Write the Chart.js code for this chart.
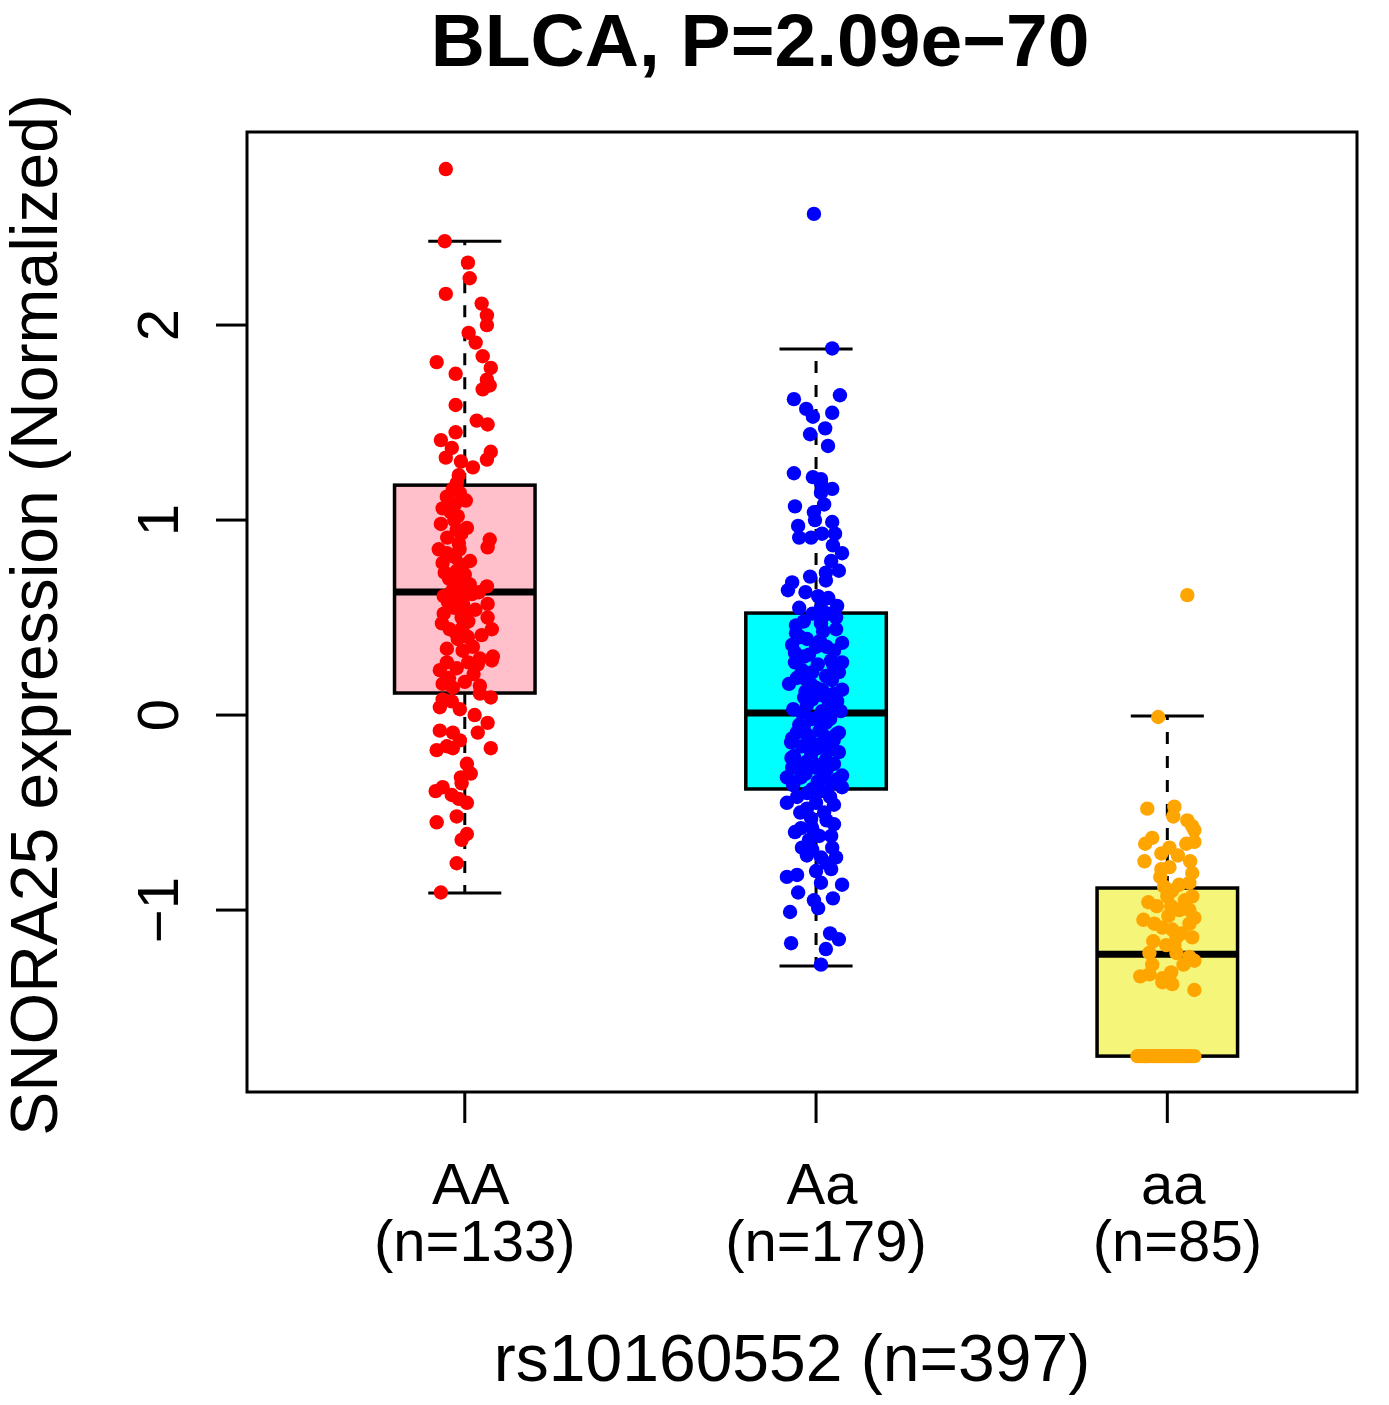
<!DOCTYPE html>
<html>
<head>
<meta charset="utf-8">
<title>BLCA boxplot</title>
<script src="https://cdn.jsdelivr.net/npm/chart.js@4.4.1/dist/chart.umd.min.js"></script>
<style>
    body { margin: 0; background: #ffffff; }
    canvas { display: block; }
</style>
</head>
<body>
<canvas id="boxChart" width="1389" height="1405"></canvas>
<script>
// Groups and labels
const genotypes = ['AA', 'Aa', 'aa'];
const groupCounts = ['(n=133)', '(n=179)', '(n=85)'];
const titleText = 'BLCA, P=2.09e\u221270';
const xTitle = 'rs10160552 (n=397)';
const yTitle = 'SNORA25 expression (Normalized)';
const yTicks = [-1, 0, 1, 2];

// Box statistics
const whiskerLow = [-0.913, -1.287, -1.749];
const q1 = [0.113, -0.379, -1.749];
const medians = [0.631, 0.010, -1.226];
const q3 = [1.179, 0.523, -0.887];
const whiskerHigh = [2.430, 1.877, -0.005];

// Colours
const pointColors = ['#FF0000', '#0000FF', '#FFA500'];
const boxColors = ['#FFC0CB', '#00FFFF', '#F5F57A'];

// Jittered points: [jitter offset, expression]
const pointsAA = [
    [-0.054, 2.80], [-0.057, 2.43], [0.009, 2.32], [0.014, 2.24], [-0.054, 2.16], [0.048, 2.11],
    [0.063, 2.05], [0.063, 2.00], [0.011, 1.96], [0.031, 1.91], [0.051, 1.84], [-0.080, 1.81],
    [-0.026, 1.75], [0.074, 1.78], [0.063, 1.72], [0.071, 1.69], [0.051, 1.67], [-0.026, 1.59],
    [0.034, 1.51], [0.065, 1.49], [-0.026, 1.45], [-0.068, 1.41], [-0.037, 1.37], [-0.054, 1.32],
    [0.074, 1.35], [0.063, 1.31], [-0.011, 1.30], [0.023, 1.27], [-0.017, 1.23], [-0.023, 1.19],
    [-0.034, 1.16], [-0.051, 1.12], [-0.014, 1.14], [0.003, 1.10], [-0.063, 1.06], [-0.028, 1.08],
    [-0.068, 0.98], [-0.020, 1.02], [0.006, 0.96], [-0.023, 0.95], [0.071, 0.90], [0.065, 0.86],
    [-0.017, 0.88], [-0.074, 0.85], [-0.051, 0.83], [-0.028, 0.81], [-0.063, 0.78], [-0.006, 0.77],
    [-0.057, 0.73], [-0.023, 0.74], [0.000, 0.72], [-0.020, 0.68], [0.063, 0.66], [0.014, 0.67],
    [0.000, 0.63], [-0.048, 0.58], [-0.014, 0.59], [0.065, 0.57], [0.000, 0.53], [0.065, 0.50],
    [-0.009, 0.50], [-0.065, 0.47], [-0.043, 0.44], [-0.006, 0.45], [0.077, 0.44], [0.048, 0.41],
    [-0.020, 0.39], [0.009, 0.40], [0.023, 0.35], [-0.051, 0.34], [-0.006, 0.33], [0.080, 0.30],
    [0.043, 0.29], [0.077, 0.28], [-0.051, 0.27], [-0.071, 0.23], [-0.023, 0.24], [0.037, 0.26],
    [0.000, 0.17], [-0.063, 0.16], [-0.034, 0.14], [0.043, 0.15], [0.043, 0.11], [0.074, 0.09],
    [-0.063, 0.08], [-0.037, 0.07], [-0.071, 0.04], [-0.014, 0.03], [0.028, 0.00], [0.065, -0.04],
    [0.037, -0.09], [-0.071, -0.08], [-0.034, -0.09], [-0.014, -0.13], [-0.080, -0.18], [-0.051, -0.16],
    [-0.034, -0.17], [0.074, -0.17], [0.006, -0.25], [0.017, -0.30], [-0.011, -0.32], [-0.009, -0.35],
    [-0.083, -0.39], [-0.063, -0.37], [-0.037, -0.41], [-0.017, -0.43], [0.006, -0.45], [-0.023, -0.52],
    [-0.080, -0.55], [0.006, -0.61], [-0.009, -0.64], [-0.023, -0.76], [-0.068, -0.91],
    [-0.040, 1.04], [-0.010, 0.93], [-0.045, 0.70], [0.020, 0.62], [-0.030, 0.55], [0.010, 0.48],
    [-0.060, 0.61], [0.030, 0.54], [-0.015, 0.85], [-0.050, 0.91], [0.015, 0.79], [-0.035, 0.64],
    [-0.005, 0.57], [0.040, 0.63], [-0.025, 0.42], [0.025, 0.21], [-0.045, 0.19], [0.010, 0.27],
    [-0.060, 0.52], [-0.030, 1.00]
];

const pointsAa = [
    [-0.006, 2.57], [0.046, 1.88], [-0.063, 1.62], [0.068, 1.64], [-0.028, 1.57], [0.046, 1.55],
    [-0.009, 1.53], [0.026, 1.47], [-0.017, 1.44], [0.034, 1.38], [-0.063, 1.24], [-0.009, 1.22],
    [0.014, 1.21], [0.014, 1.19], [0.046, 1.16], [0.014, 1.14], [-0.060, 1.07], [0.023, 1.08],
    [-0.006, 1.04], [-0.003, 1.00], [0.046, 0.99], [-0.051, 0.97], [0.054, 0.93], [0.017, 0.93],
    [-0.048, 0.91], [-0.014, 0.91], [0.048, 0.87], [0.074, 0.83], [0.043, 0.79], [0.065, 0.74],
    [0.028, 0.73], [0.028, 0.69], [-0.017, 0.71], [-0.068, 0.68], [-0.080, 0.64], [0.006, 0.61],
    [0.060, 0.56], [0.014, 0.55], [-0.048, 0.55], [0.037, 0.52], [0.017, 0.50], [0.057, 0.50],
    [-0.057, 0.46], [0.014, 0.47], [0.057, 0.44], [-0.057, 0.42], [-0.026, 0.39], [0.011, 0.38],
    [0.074, 0.37], [-0.068, 0.36], [0.051, 0.33], [-0.060, 0.32], [-0.034, 0.30], [0.043, 0.28],
    [0.074, 0.27], [-0.040, 0.23], [-0.011, 0.22], [0.065, 0.22], [0.028, 0.20], [-0.028, 0.18],
    [-0.077, 0.16], [0.000, 0.14], [0.017, 0.13], [0.074, 0.13], [0.051, 0.11], [-0.034, 0.09],
    [-0.011, 0.08], [0.037, 0.06], [-0.026, 0.05], [0.051, 0.04], [-0.040, 0.01], [0.017, 0.02],
    [-0.011, -0.02], [-0.048, -0.05], [0.028, -0.04], [0.065, -0.09], [-0.026, -0.10], [-0.068, -0.12],
    [-0.020, -0.11], [0.057, -0.10], [-0.071, -0.14], [0.014, -0.15], [0.037, -0.18], [-0.063, -0.21],
    [-0.014, -0.20], [-0.028, -0.24], [0.028, -0.23], [0.051, -0.25], [-0.068, -0.27], [0.000, -0.27],
    [0.074, -0.31], [-0.083, -0.32], [-0.043, -0.32], [0.023, -0.32], [0.046, -0.35], [-0.011, -0.38],
    [0.074, -0.37], [0.031, -0.39], [-0.054, -0.42], [-0.083, -0.45], [0.051, -0.46], [-0.026, -0.48],
    [0.023, -0.50], [-0.014, -0.53], [0.051, -0.56], [-0.043, -0.58], [-0.011, -0.58], [0.009, -0.62],
    [0.043, -0.62], [-0.040, -0.68], [-0.011, -0.69], [0.046, -0.68], [-0.026, -0.72], [0.014, -0.73],
    [0.057, -0.73], [0.043, -0.79], [0.000, -0.80], [-0.083, -0.83], [-0.054, -0.82], [0.014, -0.86],
    [0.074, -0.87], [-0.051, -0.91], [-0.006, -0.95], [0.048, -0.94], [0.006, -0.99], [-0.074, -1.01],
    [0.040, -1.12], [0.065, -1.15], [-0.071, -1.17], [0.028, -1.20], [0.014, -1.28],
    [-0.045, 0.40], [0.030, 0.35], [-0.020, 0.31], [0.005, 0.26], [0.045, 0.18], [-0.055, 0.19],
    [0.020, 0.10], [-0.030, 0.12], [0.060, 0.07], [-0.065, 0.03], [0.005, -0.01], [0.040, -0.02],
    [-0.035, -0.06], [0.010, -0.08], [-0.055, -0.09], [0.050, -0.13], [-0.040, -0.16], [0.005, -0.17],
    [0.065, -0.19], [-0.070, -0.22], [-0.005, -0.25], [0.030, -0.28], [-0.030, -0.30], [0.060, -0.33],
    [-0.065, -0.36], [0.005, -0.34], [-0.025, -0.40], [0.040, -0.42], [0.000, -0.45], [-0.045, -0.50],
    [0.030, -0.54], [-0.060, -0.60], [0.020, 0.43], [-0.010, 0.52], [0.035, 0.60], [-0.035, 0.48],
    [0.050, 0.25], [-0.015, 0.16], [0.025, -0.11], [-0.050, -0.26], [0.015, -0.39], [-0.020, -0.64],
    [0.030, -0.76], [-0.030, 0.63], [0.000, 0.35], [-0.060, 0.27], [0.070, 0.02], [-0.005, -0.15]
];

const pointsaa = [
    [0.057, 0.615], [-0.026, -0.01], [-0.057, -0.48], [0.020, -0.47], [0.017, -0.52], [0.057, -0.54],
    [0.071, -0.57], [0.077, -0.59], [-0.043, -0.63], [-0.063, -0.66], [0.054, -0.66], [0.077, -0.65],
    [0.006, -0.68], [-0.017, -0.71], [-0.065, -0.75], [0.065, -0.75], [0.006, -0.78], [-0.017, -0.79],
    [0.071, -0.81], [0.063, -0.86], [0.034, -0.87], [-0.009, -0.88], [0.014, -0.90], [0.000, -0.93],
    [0.071, -0.93], [-0.054, -0.96], [0.011, -0.98], [0.034, -1.00], [0.063, -1.00], [-0.068, -1.05],
    [-0.037, -1.07], [0.003, -1.03], [0.077, -1.04], [-0.014, -1.09], [0.014, -1.10], [0.063, -1.07],
    [0.071, -1.14], [0.026, -1.14], [0.020, -1.18], [-0.003, -1.18], [-0.051, -1.22], [0.026, -1.22],
    [0.063, -1.24], [0.077, -1.26], [0.046, -1.28], [-0.043, -1.28], [0.011, -1.32], [-0.077, -1.34],
    [-0.051, -1.33], [-0.014, -1.35], [0.014, -1.38], [-0.014, -1.37], [0.077, -1.41],
    [-0.030, -0.98], [0.040, -1.12], [-0.020, -0.83], [0.050, -0.95], [-0.040, -1.16], [0.030, -0.72],
    [-0.085, -1.749], [-0.078, -1.749], [-0.071, -1.749], [-0.063, -1.749], [-0.057, -1.749], [-0.050, -1.749],
    [-0.043, -1.749], [-0.037, -1.749], [-0.030, -1.749], [-0.023, -1.749], [-0.017, -1.749], [-0.010, -1.749],
    [-0.003, -1.749], [0.003, -1.749], [0.010, -1.749], [0.017, -1.749], [0.023, -1.749], [0.030, -1.749],
    [0.037, -1.749], [0.043, -1.749], [0.050, -1.749], [0.057, -1.749], [0.063, -1.749], [0.070, -1.749],
    [0.077, -1.749], [-0.066, -1.749]
];

const groupPoints = [pointsAA, pointsAa, pointsaa];
const fontFamily = '"Liberation Sans", Arial, Helvetica, sans-serif';

// Boxes, whiskers and medians under the points
const boxPlugin = {
    id: 'rBoxplot',
    beforeDatasetsDraw(chart) {
        const { ctx, scales: { x, y } } = chart;
        ctx.save();
        ctx.strokeStyle = '#000000';
        ctx.lineCap = 'butt';

        genotypes.forEach((g, i) => {
            const c = i + 1;
            const xm = x.getPixelForValue(c);
            const xl = x.getPixelForValue(c - 0.2);
            const xr = x.getPixelForValue(c + 0.2);

            // dashed whiskers
            ctx.lineWidth = 3;
            ctx.setLineDash([12, 12]);
            ctx.beginPath();
            ctx.moveTo(xm, y.getPixelForValue(q3[i]));
            ctx.lineTo(xm, y.getPixelForValue(whiskerHigh[i]));
            ctx.moveTo(xm, y.getPixelForValue(q1[i]));
            ctx.lineTo(xm, y.getPixelForValue(whiskerLow[i]));
            ctx.stroke();
            ctx.setLineDash([]);

            // staples
            ctx.beginPath();
            [whiskerHigh[i], whiskerLow[i]].forEach(v => {
                const py = y.getPixelForValue(v);
                ctx.moveTo(x.getPixelForValue(c - 0.104), py);
                ctx.lineTo(x.getPixelForValue(c + 0.104), py);
            });
            ctx.stroke();

            // box
            const top = y.getPixelForValue(q3[i]);
            const bottom = y.getPixelForValue(q1[i]);
            ctx.lineWidth = 3.5;
            ctx.fillStyle = boxColors[i];
            ctx.fillRect(xl, top, xr - xl, bottom - top);
            ctx.strokeRect(xl, top, xr - xl, bottom - top);

            // median
            ctx.lineWidth = 7;
            ctx.beginPath();
            ctx.moveTo(xl, y.getPixelForValue(medians[i]));
            ctx.lineTo(xr, y.getPixelForValue(medians[i]));
            ctx.stroke();
        });
        ctx.restore();
    },
    afterDraw(chart) {
        const { ctx, chartArea: area, scales: { x, y } } = chart;
        ctx.save();
        ctx.strokeStyle = '#000000';
        ctx.fillStyle = '#000000';
        ctx.lineWidth = 3;

        // frame
        ctx.strokeRect(area.left, area.top, area.right - area.left, area.bottom - area.top);

        // y ticks and rotated labels
        ctx.font = `58px ${fontFamily}`;
        ctx.textAlign = 'center';
        ctx.textBaseline = 'alphabetic';
        yTicks.forEach(v => {
            const py = y.getPixelForValue(v);
            ctx.beginPath();
            ctx.moveTo(area.left, py);
            ctx.lineTo(area.left - 31, py);
            ctx.stroke();
            ctx.save();
            ctx.translate(178, py);
            ctx.rotate(-Math.PI / 2);
            ctx.fillText(v < 0 ? '\u2212' + Math.abs(v) : String(v), 0, 0);
            ctx.restore();
        });

        // x ticks and two-line labels
        genotypes.forEach((g, i) => {
            const px = x.getPixelForValue(i + 1);
            ctx.beginPath();
            ctx.moveTo(px, area.bottom);
            ctx.lineTo(px, area.bottom + 31);
            ctx.stroke();
            ctx.fillText(g, px + 6, 1204);
            ctx.fillText(groupCounts[i], px + 10, 1261);
        });

        // axis titles
        ctx.font = `66px ${fontFamily}`;
        ctx.fillText(xTitle, 792, 1381);
        ctx.save();
        ctx.translate(57, 615);
        ctx.rotate(-Math.PI / 2);
        ctx.fillText(yTitle, 0, 0);
        ctx.restore();

        // main title
        ctx.font = `bold 75px ${fontFamily}`;
        ctx.fillText(titleText, 760, 66);
        ctx.restore();
    }
};

// Build scatter datasets from the point lists
const datasets = groupPoints.map((pts, i) => ({
    label: genotypes[i],
    data: pts.map(p => ({ x: i + 1 + p[0], y: p[1] })),
    backgroundColor: pointColors[i],
    borderWidth: 0,
    pointRadius: 7.2,
    pointHoverRadius: 7.2
}));

const ctx = document.getElementById('boxChart').getContext('2d');
new Chart(ctx, {
    type: 'scatter',
    data: { datasets },
    options: {
        responsive: false,
        animation: false,
        layout: {
            padding: { left: 247, top: 132, right: 32, bottom: 313 }
        },
        scales: {
            x: { type: 'linear', min: 0.38, max: 3.54, display: false },
            y: { type: 'linear', min: -1.933, max: 2.99, display: false }
        },
        plugins: {
            legend: { display: false },
            tooltip: { enabled: false }
        }
    },
    plugins: [boxPlugin]
});
</script>
</body>
</html>
